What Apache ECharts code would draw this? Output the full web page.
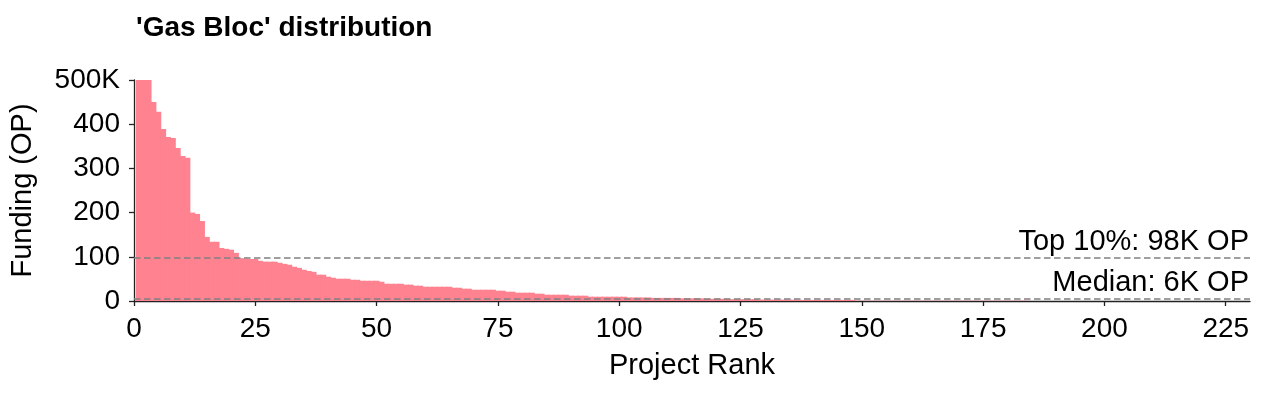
<!DOCTYPE html>
<html>
<head>
<meta charset="utf-8">
<script src="https://cdn.jsdelivr.net/npm/echarts@6/dist/echarts.min.js"></script>
<style>
html,body{margin:0;padding:0;background:#fff;}
#chart{width:1265px;height:394px;}
</style>
</head>
<body>
<div id="chart"></div>
<script>
// Funding (K OP) per project, ordered by rank (rank = index + 1)
const funding = [
  500,500,500,
  450,428,389,371,369,346,328,324,
  200,197,181,145,134,134,120,118,116,109,
  97,96,95,95,91,89,89,89,86.5,84,
  82,77.5,75,70.7,68,66,59.5,59.5,55,52.6,
  50.4,50.4,50.4,48,48,45.8,45.8,45.8,45.8,43.6,
  39,39,39,39,37,37,34.6,34.6,32.3,32.3,
  32.3,32.3,32.3,32.3,30,30,27.8,27.8,25.5,25.5,
  25.5,25.5,25.5,23.3,23.3,21,21,18.8,18.8,18.8,
  18.8,16.5,16.5,14.2,14.2,14.2,14.2,14.2,12,12,
  12,12,9.7,9.7,9.7,9.7,9.7,9.7,9.7,9.7,
  8,8,8,8,8,7,7,7,7,7,
  7,6,6,6,6,6,5,5,5,5,
  5,4,4,4,4,4,4,3,3,3,
  3,3,3,3,3,2.5,2.5,2.5,2.5,2.5,
  2.5,2.5,2.5,2.5,2.5,2.5,2.5,
  0.6,0.6,0.6,0.6,0.6,0.6,0.6,0.6,0.6,0.6,
  0.6,0.6,0.6,0.6,0.6,0.6,0.6,0.6,0.6,0.6,
  0.6,0.6,0.6,0.6,0.6,0.6,0.6,0.6,0.6,0.6,
  0.6,0.6,0.6,0.6,0.6,0.6
];
const xTicks = [0,25,50,75,100,125,150,175,200,225];
const yTicks = [0,100,200,300,400,500];
const yTickLabels = ['0','100','200','300','400','500K'];
const top10Value = 98;
const top10Label = 'Top 10%: 98K OP';
const medianValue = 6;
const medianLabel = 'Median: 6K OP';
const titleText = "'Gas Bloc' distribution";
const xName = 'Project Rank';
const yName = 'Funding (OP)';

const FONT = '"Liberation Sans", Arial, sans-serif';
const barData = funding.map((v, i) => [i + 1, v]);

const chart = echarts.init(document.getElementById('chart'), null, {renderer: 'canvas'});
chart.setOption({
  animation: false,
  backgroundColor: '#ffffff',
  title: {
    text: titleText, left: 131, top: 9,
    textStyle: {fontFamily: FONT, fontSize: 28, fontWeight: 'bold', color: '#000'}
  },
  grid: {left: 134, right: 15, top: 80, bottom: 93, containLabel: false},
  xAxis: {
    type: 'value', min: 0, max: 230, interval: 25,
    name: xName, nameLocation: 'middle', nameGap: 50,
    nameTextStyle: {fontFamily: FONT, fontSize: 29, color: '#000'},
    axisLine: {show: true, lineStyle: {color: '#222', width: 1.3}},
    axisTick: {show: true, length: 5, inside: false, customValues: xTicks, lineStyle: {color: '#222', width: 1.3}},
    axisLabel: {customValues: xTicks, margin: 14, fontFamily: FONT, fontSize: 28, color: '#000'},
    splitLine: {show: false}
  },
  yAxis: {
    type: 'value', min: 0, max: 500, interval: 100,
    name: yName, nameLocation: 'middle', nameGap: 97, nameRotate: 90,
    nameTextStyle: {fontFamily: FONT, fontSize: 29, color: '#000'},
    axisLine: {show: true, lineStyle: {color: '#222', width: 1.3}},
    axisTick: {show: true, length: 5, inside: false, lineStyle: {color: '#222', width: 1.3}},
    axisLabel: {
      margin: 14, fontFamily: FONT, fontSize: 28, color: '#000',
      formatter: (v) => { const k = yTicks.indexOf(v); return k >= 0 ? yTickLabels[k] : ''; }
    },
    splitLine: {show: false}
  },
  series: [{
    type: 'bar',
    data: barData,
    barWidth: 6,
    itemStyle: {color: '#FF8290'},
    emphasis: {disabled: true},
    markLine: {
      silent: true, symbol: 'none', animation: false,
      lineStyle: {color: '#808080', type: [6.5, 3.5], width: 1.5},
      label: {position: 'insideEndTop', distance: [1, 1], fontFamily: FONT, fontSize: 29, color: '#000'},
      data: [
        {yAxis: top10Value, label: {formatter: top10Label}},
        {yAxis: medianValue, label: {formatter: medianLabel}}
      ]
    }
  }]
});
</script>
</body>
</html>
